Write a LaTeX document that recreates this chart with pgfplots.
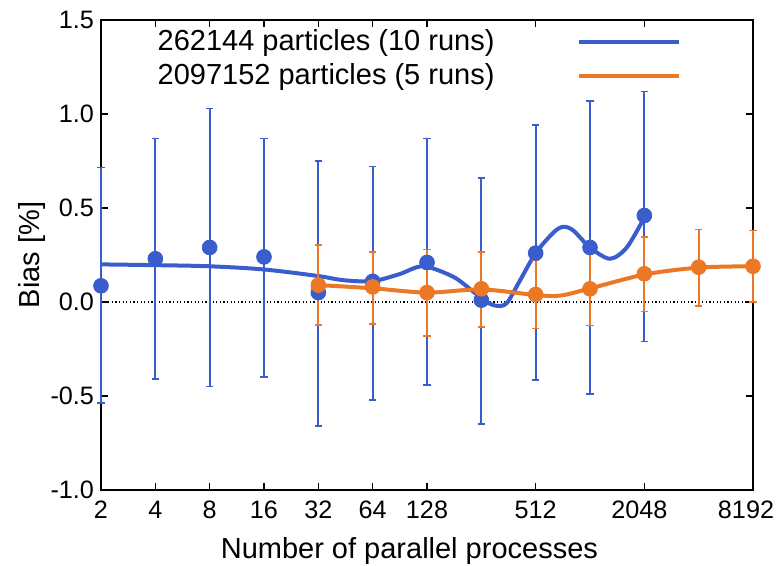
\documentclass[border=0pt]{standalone}
\usepackage{fontspec}
\setmainfont{Liberation Sans}
\usepackage{pgfplots}
\pgfplotsset{compat=1.18}
\usepackage{pgfplotstable}
\definecolor{cblue}{RGB}{58,93,206}
\definecolor{corange}{RGB}{236,119,36}

% measured points with error-bar ends
\pgfplotstableread{
x y hi lo
2 0.086 0.716 -0.536
4 0.23 0.87 -0.41
8 0.29 1.03 -0.45
16 0.24 0.87 -0.40
32 0.05 0.75 -0.66
64 0.11 0.72 -0.52
128 0.21 0.87 -0.44
256 0.01 0.66 -0.65
512 0.26 0.94 -0.416
1024 0.29 1.07 -0.49
2048 0.46 1.12 -0.21
}\blueerr

\pgfplotstableread{
x y hi lo
32 0.09 0.305 -0.122
64 0.08 0.266 -0.116
128 0.05 0.279 -0.18
256 0.07 0.266 -0.132
512 0.04 0.222 -0.141
1024 0.07 0.275 -0.125
2048 0.15 0.345 -0.051
4096 0.185 0.385 -0.021
8192 0.19 0.381 0.0
}\orangeerr

% smoothed fit curves
\pgfplotstableread{
x y
2 0.20
4 0.196
8 0.19
16 0.173
32 0.138
44 0.116
64 0.111
90 0.148
122 0.19
179 0.134
231 0.055
274 0.0
311 -0.02
354 -0.006
420 0.116
512 0.26
643 0.37
729 0.40
828 0.38
1024 0.29
1320 0.23
1637 0.29
2048 0.45
}\bluecurve

\pgfplotstableread{
x y
32 0.09
64 0.073
128 0.05
256 0.067
512 0.037
700 0.034
1024 0.072
2048 0.146
4096 0.183
8192 0.19
}\orangecurve

\begin{document}
\begin{tikzpicture}
\begin{axis}[
  name=ax,
  scale only axis, width=326bp, height=235bp,
  xmode=log, log basis x=2,
  xmin=2, xmax=8192, ymin=-1, ymax=1.5,
  xtick={2,4,8,16,32,64,128,512,2048,8192},
  xticklabels={2,4,8,16,32,64,128,512,{\hspace*{-5bp}2048},{\hspace*{-7bp}8192}},
  ytick={-1,-0.5,0,0.5,1,1.5},
  y tick label style={/pgf/number format/fixed, /pgf/number format/fixed zerofill, /pgf/number format/precision=1, xshift=0bp},
  /pgf/number format/assume math mode=true,
  font=\fontsize{14.5bp}{17bp}\selectfont,
  tick label style={font=\fontsize{12.6bp}{15bp}\selectfont},
  x tick label style={yshift=-2bp},
  clip=false,
  axis line style={line width=1bp},
  major tick length=3.5bp,
  minor tick num=0,
  every tick/.style={black, line width=0.8bp},
  xlabel={Number of parallel processes},
  ylabel={Bias [\%]},
  xlabel style={at={(axis description cs:0.473,-0.1447)}, anchor=base},
  ylabel style={at={(axis description cs:-0.0936,0.5)}, anchor=base},
  legend style={draw=none, fill=none, at={(axis description cs:0.071,0.997)}, anchor=north west,
    font=\fontsize{14.5bp}{17bp}\selectfont, row sep=1bp,
    /tikz/every odd column/.append style={column sep=39bp}},
  legend cell align=left,
  legend plot pos=right,
  legend image code/.code={\draw[#1, line width=2bp] (0bp,0bp) -- (50bp,0bp);},
]
\addplot[black, line width=0.6bp, dash pattern=on 0.6bp off 1.2bp, forget plot] coordinates {(2,0) (8192,0)};

\addplot[cblue, only marks, mark=*, mark size=3.7bp, forget plot,
  error bars/.cd, y dir=both, y explicit, error mark=-,
  error bar style={line width=0.85bp, cblue},
  error mark options={cblue, line width=0.85bp, mark size=1.8bp, rotate=90}]
  table[x=x, y=y, y error plus expr=\thisrow{hi}-\thisrow{y}, y error minus expr=\thisrow{y}-\thisrow{lo}] {\blueerr};
\addplot[cblue, line width=2bp, smooth, no marks] table[x=x, y=y] {\bluecurve};
\addlegendentry{262144 particles (10 runs)}

\addplot[corange, only marks, mark=*, mark size=3.7bp, forget plot,
  error bars/.cd, y dir=both, y explicit, error mark=-,
  error bar style={line width=0.85bp, corange},
  error mark options={corange, line width=0.85bp, mark size=1.8bp, rotate=90}]
  table[x=x, y=y, y error plus expr=\thisrow{hi}-\thisrow{y}, y error minus expr=\thisrow{y}-\thisrow{lo}] {\orangeerr};
\addplot[corange, line width=2bp, smooth, no marks] table[x=x, y=y] {\orangecurve};
\addlegendentry{2097152 particles (5 runs)}
\end{axis}
\path (ax.south west) ++(-50.5bp,-38bp) coordinate (bbA);
\path (ax.north east) ++(12.5bp,10bp) coordinate (bbB);
\pgfresetboundingbox
\path[use as bounding box] (bbA) rectangle (bbB);
\end{tikzpicture}
\end{document}
